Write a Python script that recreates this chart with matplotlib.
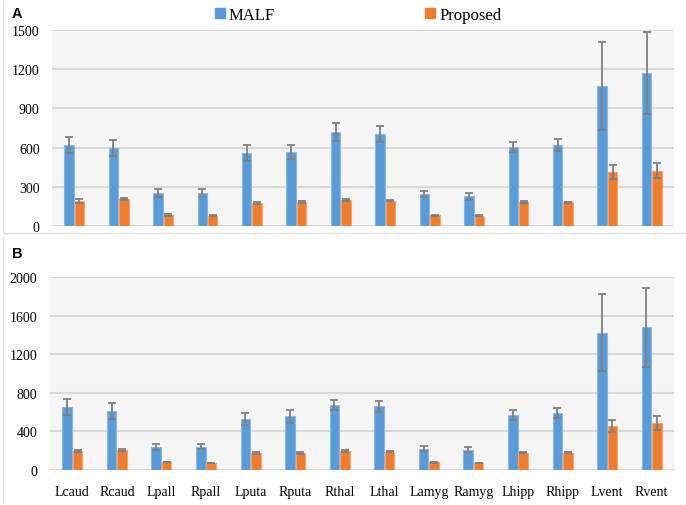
import numpy as np
import matplotlib
matplotlib.use('Agg')
import matplotlib.pyplot as plt
from matplotlib.lines import Line2D
from matplotlib.patches import Patch

plt.rcParams['font.family'] = ['Liberation Serif', 'DejaVu Serif']

regions = ['Lcaud', 'Rcaud', 'Lpall', 'Rpall', 'Lputa', 'Rputa', 'Rthal',
           'Lthal', 'Lamyg', 'Ramyg', 'Lhipp', 'Rhipp', 'Lvent', 'Rvent']

# panel A
malf_a = [620, 597, 250, 253, 559, 566, 722, 706, 243, 227, 605, 620, 1074, 1171]
malf_a_err = [63, 62, 30, 28, 58, 52, 69, 62, 22, 25, 40, 43, 336, 314]
prop_a = [191, 207, 84, 77, 176, 181, 197, 194, 82, 77, 184, 181, 413, 423]
prop_a_err = [12, 10, 5, 4, 7, 8, 6, 6, 4, 4, 6, 6, 54, 59]

# panel B
malf_b = [653, 611, 238, 241, 532, 555, 677, 659, 221, 210, 566, 587, 1424, 1478]
malf_b_err = [83, 83, 27, 28, 62, 67, 51, 55, 27, 24, 52, 51, 396, 408]
prop_b = [197, 210, 83, 73, 176, 180, 197, 190, 80, 73, 180, 180, 459, 483]
prop_b_err = [14, 12, 5, 4, 8, 10, 6, 6, 4, 4, 7, 7, 63, 72]

blue = '#5b9bd5'
orange = '#ed7d31'
grid_c = '#d9d9d9'
bg = '#f5f5f5'

W, H = 686, 506
fig = plt.figure(figsize=(W / 100, H / 100), dpi=100)


def make_axes(left, top, right, bottom):
    return fig.add_axes([left / W, 1 - bottom / H, (right - left) / W, (bottom - top) / H])


def draw_panel(ax, malf, malf_err, prop, prop_err, ymax, step, show_labels):
    x = np.arange(len(regions))
    w = 0.215
    ax.set_facecolor(bg)
    ax.bar(x - w / 2 - 0.01, malf, w, color=blue, edgecolor='#8ab8e6', linewidth=0.8, zorder=3)
    ax.bar(x + w / 2 + 0.01, prop, w, color=orange, edgecolor='#f4a56e', linewidth=0.8, zorder=3)
    ax.errorbar(x - w / 2 - 0.01, malf, yerr=malf_err, fmt='none', ecolor='#7f7f7f',
                elinewidth=1.3, capsize=3, capthick=1.3, zorder=4)
    ax.errorbar(x + w / 2 + 0.01, prop, yerr=prop_err, fmt='none', ecolor='#7f7f7f',
                elinewidth=1.3, capsize=3, capthick=1.3, zorder=4)
    ax.set_xlim(-0.5, len(regions) - 0.5)
    ax.set_ylim(0, ymax)
    ax.set_yticks(np.arange(0, ymax + 1, step))
    ax.yaxis.grid(True, color=grid_c, linewidth=1.5, zorder=0)
    ax.set_axisbelow(True)
    for s in ax.spines.values():
        s.set_visible(False)
    ax.tick_params(axis='y', length=0, labelsize=10, pad=9)
    if show_labels:
        ax.set_xticks(x)
        ax.set_xticklabels(regions)
        ax.tick_params(axis='x', length=0, labelsize=10, pad=11)
    else:
        ax.set_xticks([])


ax_a = make_axes(52, 31, 674, 227)
draw_panel(ax_a, malf_a, malf_a_err, prop_a, prop_a_err, 1500, 300, False)

ax_b = make_axes(50, 278, 674, 471)
draw_panel(ax_b, malf_b, malf_b_err, prop_b, prop_b_err, 2000, 400, True)

# panel letters
fig.text(12 / W, 1 - 14 / H, 'A', fontfamily='Liberation Sans', fontweight='bold',
         fontsize=10.5, va='center', ha='left')
fig.text(12 / W, 1 - 254 / H, 'B', fontfamily='Liberation Sans', fontweight='bold',
         fontsize=10.5, va='center', ha='left')

# legend
handles = [Patch(facecolor=blue, edgecolor=blue), Patch(facecolor=orange, edgecolor=orange)]
fig.legend(handles, ['MALF', 'Proposed'], loc='center', bbox_to_anchor=(358 / W, 1 - 16 / H),
           ncol=2, frameon=False, prop={'size': 12},
           handlelength=0.6, handleheight=0.6, handletextpad=0.25, columnspacing=9.0)

# chart frame lines
fig.add_artist(Line2D([3 / W, 3 / W], [1 - 2 / H, 1 - 234 / H], color='#e0e0e0', linewidth=1))
fig.add_artist(Line2D([3 / W, 1], [1 - 234 / H, 1 - 234 / H], color='#e0e0e0', linewidth=1))
fig.add_artist(Line2D([3 / W, 3 / W], [1 - 238 / H, 1 - 504 / H], color='#e0e0e0', linewidth=1))

fig.savefig('out.png', dpi=100)
